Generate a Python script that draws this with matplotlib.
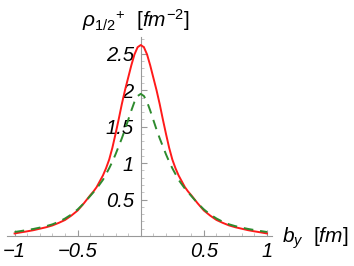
import numpy as np
import matplotlib
matplotlib.use("Agg")
import matplotlib.pyplot as plt
from matplotlib.ticker import MultipleLocator

plt.rcParams['font.family'] = ['Liberation Sans', 'DejaVu Sans']
plt.rcParams['mathtext.fontset'] = 'custom'
plt.rcParams['mathtext.rm'] = 'Liberation Sans'
plt.rcParams['mathtext.it'] = 'Liberation Sans:italic'

# half-profile values (curves are symmetric in b_y)
b_half = [0.0, 0.025, 0.05, 0.075, 0.1, 0.125, 0.15, 0.175, 0.2, 0.225,
          0.25, 0.275, 0.3, 0.325, 0.35, 0.375, 0.4, 0.45, 0.5, 0.55,
          0.6, 0.65, 0.7, 0.75, 0.8, 0.85, 0.9, 0.95, 1.0]
rho_red = [2.62, 2.59, 2.49, 2.34, 2.17, 2.0, 1.81, 1.60, 1.40, 1.21,
           1.05, 0.93, 0.83, 0.75, 0.67, 0.61, 0.56, 0.45, 0.35, 0.28,
           0.22, 0.18, 0.145, 0.12, 0.10, 0.08, 0.064, 0.05, 0.035]
rho_green = [1.95, 1.92, 1.84, 1.72, 1.59, 1.46, 1.34, 1.23, 1.12, 1.02,
             0.93, 0.85, 0.77, 0.71, 0.65, 0.60, 0.55, 0.45, 0.365, 0.295,
             0.24, 0.195, 0.16, 0.135, 0.115, 0.097, 0.082, 0.068, 0.055]

bx = np.concatenate([-np.array(b_half[:0:-1]), b_half])
red = np.concatenate([rho_red[:0:-1], rho_red])
green = np.concatenate([rho_green[:0:-1], rho_green])

fig = plt.figure(figsize=(3.54, 2.66), dpi=100)
ax = fig.add_axes([7/354, 30/266, 265/354, 199/266])

ax.plot(bx, red, color='#ff1a1a', lw=1.4, zorder=3)
ax.plot(bx, green, color='#2e8b2e', lw=1.4, ls=(0, (5, 3.5)), zorder=3)

ax.set_xlim(-1.06, 1.04)
ax.set_ylim(0, 2.73)

for s in ['top', 'right']:
    ax.spines[s].set_visible(False)
ax.spines['left'].set_position(('data', 0))
ax.spines['bottom'].set_position(('data', 0))
for s in ['left', 'bottom']:
    ax.spines[s].set_color('#999999')
    ax.spines[s].set_linewidth(0.8)

ax.set_xticks([-1, -0.5, 0.5, 1])
ax.set_xticklabels(['\u22121', '\u22120.5', '0.5', '1'], fontstyle='italic')
ax.set_yticks([0.5, 1, 1.5, 2, 2.5])
ax.set_yticklabels(['0.5', '1', '1.5', '2', '2.5'], fontstyle='italic')
ax.xaxis.set_minor_locator(MultipleLocator(0.1))
ax.yaxis.set_minor_locator(MultipleLocator(0.1))
ax.tick_params(which='major', direction='in', length=4, color='#999999',
               width=0.8, labelsize=14.5)
ax.tick_params(axis='y', which='major', pad=5)
ax.tick_params(axis='x', which='major', pad=4)
ax.tick_params(which='minor', direction='in', length=2, color='#bbbbbb', width=0.6)

fig.text(82/354, 1 - 27/266, r'$\rho_{1/2}{}^{+}\ \ [fm^{-2}]$', fontsize=15,
         ha='left', va='baseline')
fig.text(282/354, 1 - 243/266, r'$b_y\ \ [fm]$', fontsize=15,
         ha='left', va='baseline')

fig.savefig('out.png', dpi=100)
